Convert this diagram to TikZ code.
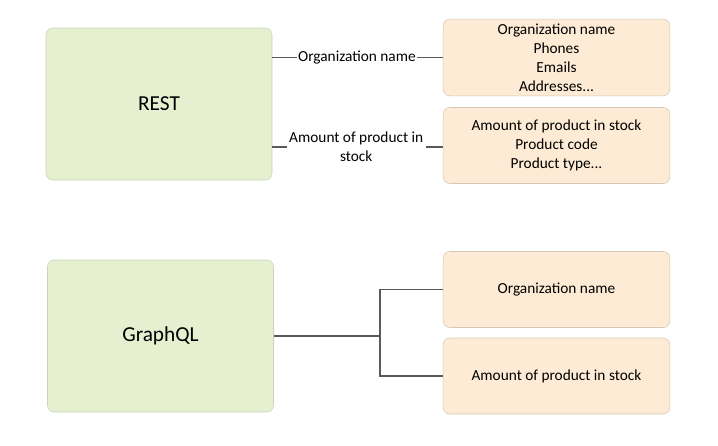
\documentclass[tikz,border=0pt]{standalone}
\usepackage{fontspec}
\setmainfont{Carlito}
\definecolor{apigreen}{HTML}{E6EFD0}
\definecolor{apigreenline}{HTML}{C9D3B5}
\definecolor{fieldorange}{HTML}{FDEBD5}
\definecolor{fieldline}{HTML}{D5C8B8}
\definecolor{linkgray}{HTML}{595959}
\begin{document}
\begin{tikzpicture}[x=0.75pt,y=-0.75pt,
    api/.style={draw=apigreenline,fill=apigreen,rounded corners=5pt,
      minimum width=169.5pt,minimum height=114pt,font=\fontsize{16}{19}\selectfont},
    field/.style={draw=fieldline,fill=fieldorange,rounded corners=5pt,
      minimum width=170pt,minimum height=57pt,align=center,
      font=\fontsize{11.5}{14.25}\selectfont},
    link/.style={draw=linkgray,line width=0.8pt},
    linklabel/.style={fill=white,inner sep=1pt,align=center,
      font=\fontsize{11.5}{14.25}\selectfont}]
  \useasboundingbox (0,0) rectangle (718,446);
  % REST
  \node[api] (rest) at (159,104) {REST};
  \node[field] (restorg) at (556.5,57.5)
    {Organization name\\Phones\\Emails\\Addresses...};
  \node[field] (reststock) at (556.5,145.5)
    {Amount of product in stock\\Product code\\Product type...};
  \coordinate (resta) at (rest.east |- restorg.west);
  \coordinate (restb) at (rest.east |- 0,147);
  \draw[link] (resta) -- (restorg.west |- resta)
    node[linklabel,midway,xshift=-0.5pt] {Organization name};
  \draw[link] (restb) -- (reststock.west |- restb)
    node[linklabel,midway,xshift=-1pt,inner xsep=2pt] {Amount of product in\\stock};
  % GraphQL
  \node[api] (gql) at (160.5,336) {GraphQL};
  \node[field] (gqlorg) at (556.5,289.5) {Organization name};
  \node[field] (gqlstock) at (556.5,376) {Amount of product in stock};
  \coordinate (fork) at (380,336);
  \draw[link] (gql.east) -- (fork);
  \draw[link] (gqlorg.west) -| (fork) |- (gqlstock.west);
\end{tikzpicture}
\end{document}
